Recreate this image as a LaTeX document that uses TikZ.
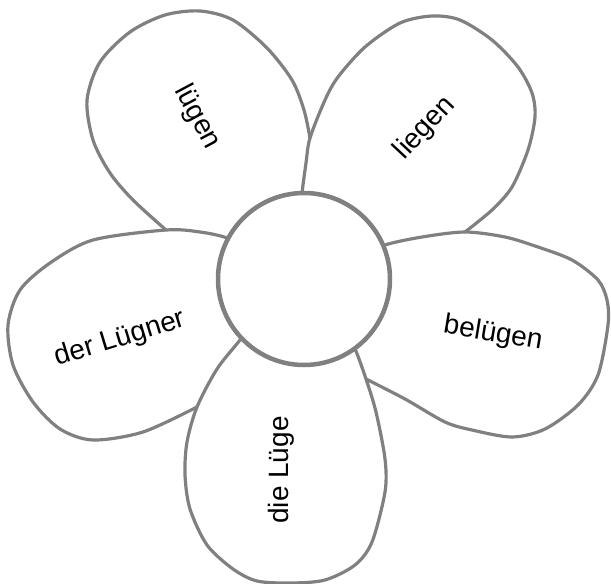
\documentclass[tikz,border=0pt]{standalone}
\usepackage{fontspec}
\setmainfont{Liberation Sans}
\usepackage{tikz}
\definecolor{grigio}{HTML}{808080}

\begin{document}
\begin{tikzpicture}[x=1pt,y=-1pt,
            petalo/.style={line width=3.2pt, color=grigio, line cap=round},
            parola/.style={font=\fontsize{28}{34}\selectfont, inner sep=0pt}]
        \useasboundingbox (0,0) rectangle (611,584);
        % Centro: (304,279), raggio 86
        \def\cx{304} \def\cy{279} \def\r{86}

        % Punti di incontro dei petali
        \coordinate (J1) at (310,138); % luegen / liegen
        \coordinate (J2) at (166,230); % luegen / der Luegner
        \coordinate (J3) at (197,407); % der Luegner / die Luege
        \coordinate (J4) at (366,379); % die Luege / beluegen
        \coordinate (J5) at (465,232); % liegen / beluegen

        % Petali (dal basso verso l'alto)
        \draw[petalo] plot[smooth] coordinates {(J1) (304,110) (292,80) (267,48)
            (233,20) (200,11) (165,15) (130,32) (100,62) (87,100) (93,140)
            (110,173) (133,200) (J2)};
        \draw[petalo] plot[smooth] coordinates {(300,215) (302,193) (306,163) (J1)
            (325,100) (338,77) (365,47) (400,23) (432,16) (460,20) (492,40)
            (518,67) (532,93) (535,117) (528,150) (512,187) (492,210) (J5)};
        \draw[petalo] plot[smooth] coordinates {(370,255) (385,245) (422,237) (J5)
            (505,237) (538,247) (572,260) (598,280) (607,300) (608,325)
            (598,375) (578,405) (545,429) (512,437) (472,430) (445,422)
            (405,399) (J4)};
        \draw[petalo] plot[smooth] coordinates {(245,250) (227,238) (200,232) (J2)
            (93,240) (50,263) (20,290) (8,325) (13,365) (33,402) (60,429)
            (93,440) (143,432) (J3)};
        \draw[petalo] plot[smooth] coordinates {(250,325) (240,340) (217,369) (J3)
            (187,442) (185,475) (190,509) (207,545) (233,569) (257,581)
            (291,583) (325,580) (355,565) (372,542) (385,492) (385,459)
            (376,412) (J4) (355,349) (345,335)};

        % Cerchio centrale
        \draw[line width=4.5pt, color=grigio, fill=white] (\cx,\cy) circle (\r);

        % Parole
        \node[parola, rotate=-62] (luegen) at (197,117) {lügen};
        \node[parola, rotate=47] (liegen) at (425,128) {liegen};
        \node[parola, rotate=-9.5] (beluegen) at (493,334) {belügen};
        \node[parola, rotate=17] (luegner) at (120,339) {der Lügner};
        \node[parola, rotate=90] (luege) at (281,470) {die Lüge};
    \end{tikzpicture}
\end{document}
